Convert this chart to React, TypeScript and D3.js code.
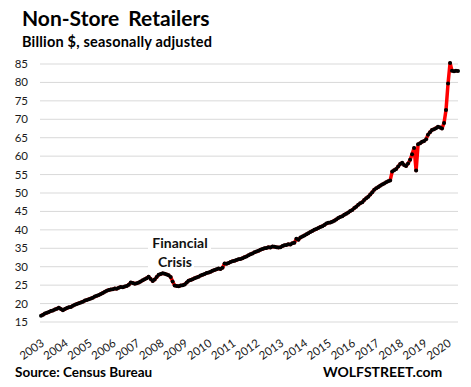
import React from 'react';
import * as d3 from 'd3';

const width = 471;
const height = 387;

// monthly sales, billion $, seasonally adjusted
const v2003 = [16.7, 17.0, 17.3, 17.5, 17.7, 18.0, 18.1, 18.4, 18.6, 18.9, 18.5, 18.2];
const v2004 = [18.5, 18.8, 19.0, 19.1, 19.4, 19.7, 19.9, 20.1, 20.3, 20.5, 20.8, 21.0];
const v2005 = [21.2, 21.4, 21.6, 21.9, 22.1, 22.3, 22.6, 22.9, 23.2, 23.5, 23.7, 23.8];
const v2006 = [23.9, 24.1, 24.0, 24.3, 24.5, 24.4, 24.6, 24.8, 25.1, 25.7, 25.6, 25.4];
const v2007 = [25.5, 25.7, 26.0, 26.3, 26.6, 26.9, 27.3, 26.7, 26.1, 26.5, 27.2, 27.8];
const v2008 = [28.0, 28.2, 28.1, 27.9, 27.7, 27.2, 26.0, 24.9, 24.8, 24.7, 24.9, 25.0];
const v2009 = [25.2, 25.7, 26.2, 26.4, 26.6, 26.9, 27.1, 27.3, 27.6, 27.8, 28.0, 28.3];
const v2010 = [28.4, 28.6, 28.9, 29.1, 29.3, 29.5, 29.4, 29.7, 30.9, 30.8, 31.0, 31.3];
const v2011 = [31.5, 31.6, 31.8, 32.0, 32.1, 32.3, 32.6, 32.8, 33.1, 33.4, 33.6, 33.9];
const v2012 = [34.1, 34.3, 34.6, 34.8, 35.0, 35.1, 35.3, 35.2, 35.5, 35.4, 35.3, 35.2];
const v2013 = [35.3, 35.6, 35.8, 35.9, 36.1, 36.0, 36.4, 36.5, 37.6, 37.3, 37.9, 38.2];
const v2014 = [38.5, 38.8, 39.1, 39.4, 39.7, 40.0, 40.2, 40.5, 40.8, 41.0, 41.3, 41.7];
const v2015 = [41.9, 42.0, 42.2, 42.5, 42.8, 43.2, 43.5, 43.7, 44.1, 44.4, 44.7, 45.1];
const v2016 = [45.4, 45.9, 46.3, 46.8, 47.2, 47.5, 48.1, 48.6, 49.0, 49.6, 50.2, 50.9];
const v2017 = [51.3, 51.6, 52.0, 52.3, 52.6, 52.9, 53.2, 53.4, 55.8, 56.2, 56.5, 57.2];
const v2018 = [57.9, 58.2, 57.6, 57.3, 58.0, 59.0, 60.5, 62.2, 56.1, 63.2, 63.5, 63.9];
const v2019 = [64.1, 64.6, 65.8, 66.5, 67.1, 67.3, 67.6, 68.0, 67.8, 67.5, 69.0, 72.5];
const v2020 = [79.7, 85.3, 83.2, 83.0, 83.2, 83.1];

const values = [
  v2003, v2004, v2005, v2006, v2007, v2008, v2009, v2010, v2011,
  v2012, v2013, v2014, v2015, v2016, v2017, v2018, v2019, v2020,
].flat();

const yearLabels = d3.range(2003, 2021).map(String);
const yTicks = d3.range(15, 86, 5);

const start = new Date(2003, 0, 1);
const data = values.map((v, i) => ({ date: d3.timeMonth.offset(start, i), v }));

const font = "Lato, 'Open Sans', sans-serif";

export default function App() {
  const x = d3
    .scaleTime()
    .domain([start, data[data.length - 1].date])
    .range([41, 458]);
  const y = d3.scaleLinear().domain([15, 85]).range([322, 64]);

  const line = d3
    .line<{ date: Date; v: number }>()
    .x(d => x(d.date))
    .y(d => y(d.v));

  return (
    <div style={{ position: 'absolute', left: 0, top: 0 }}>
      <svg width={width} height={height} style={{ display: 'block', background: '#fff' }}>
        {/* gridlines + y labels */}
        {yTicks.map(t => (
          <g key={t}>
            <line x1={40} x2={458} y1={y(t)} y2={y(t)} stroke="#d9d9d9" strokeWidth={1} />
            <text x={28} y={y(t)} dy="0.35em" textAnchor="end" fontFamily={font} fontSize={11.5} fill="#1a1a1a">
              {t}
            </text>
          </g>
        ))}

        {/* x labels */}
        {yearLabels.map(yr => {
          const tx = x(new Date(+yr, 0, 1)) + 4;
          const ty = 345;
          return (
            <text key={yr} x={tx} y={ty} textAnchor="end" fontFamily={font} fontSize={11.5} fill="#1a1a1a"
              transform={`rotate(-35, ${tx}, ${ty})`}>
              {yr}
            </text>
          );
        })}

        {/* annotation */}
        <rect x={148} y={235} width={63} height={16} fill="#fff" />
        <rect x={148} y={254} width={46} height={16} fill="#fff" />
        <text x={180} y={248} textAnchor="middle" fontFamily={font} fontWeight="bold" fontSize={14} fill="#111">
          Financial
        </text>
        <text x={175} y={267} textAnchor="middle" fontFamily={font} fontWeight="bold" fontSize={14} fill="#111">
          Crisis
        </text>

        <path d={line(data) ?? ''} fill="none" stroke="#ff0000" strokeWidth={3.5} strokeLinejoin="round" />
        {data.map((d, i) => (
          <circle key={i} cx={x(d.date)} cy={y(d.v)} r={2} fill="#000" />
        ))}

        {/* titles */}
        <text x={22} y={26} fontFamily={font} fontWeight="bold" fontSize={21} wordSpacing={4} fill="#000">
          Non-Store Retailers
        </text>
        <text x={22} y={47} fontFamily={font} fontWeight="bold" fontSize={14.5} letterSpacing={0.2} fill="#000">
          Billion $, seasonally adjusted
        </text>
        <text x={15} y={377} fontFamily={font} fontWeight="bold" fontSize={13.5} fill="#000">
          Source: Census Bureau
        </text>
        <text x={323} y={377} fontFamily={font} fontWeight="bold" fontSize={14} fill="#000">
          WOLFSTREET.com
        </text>
      </svg>
    </div>
  );
}
